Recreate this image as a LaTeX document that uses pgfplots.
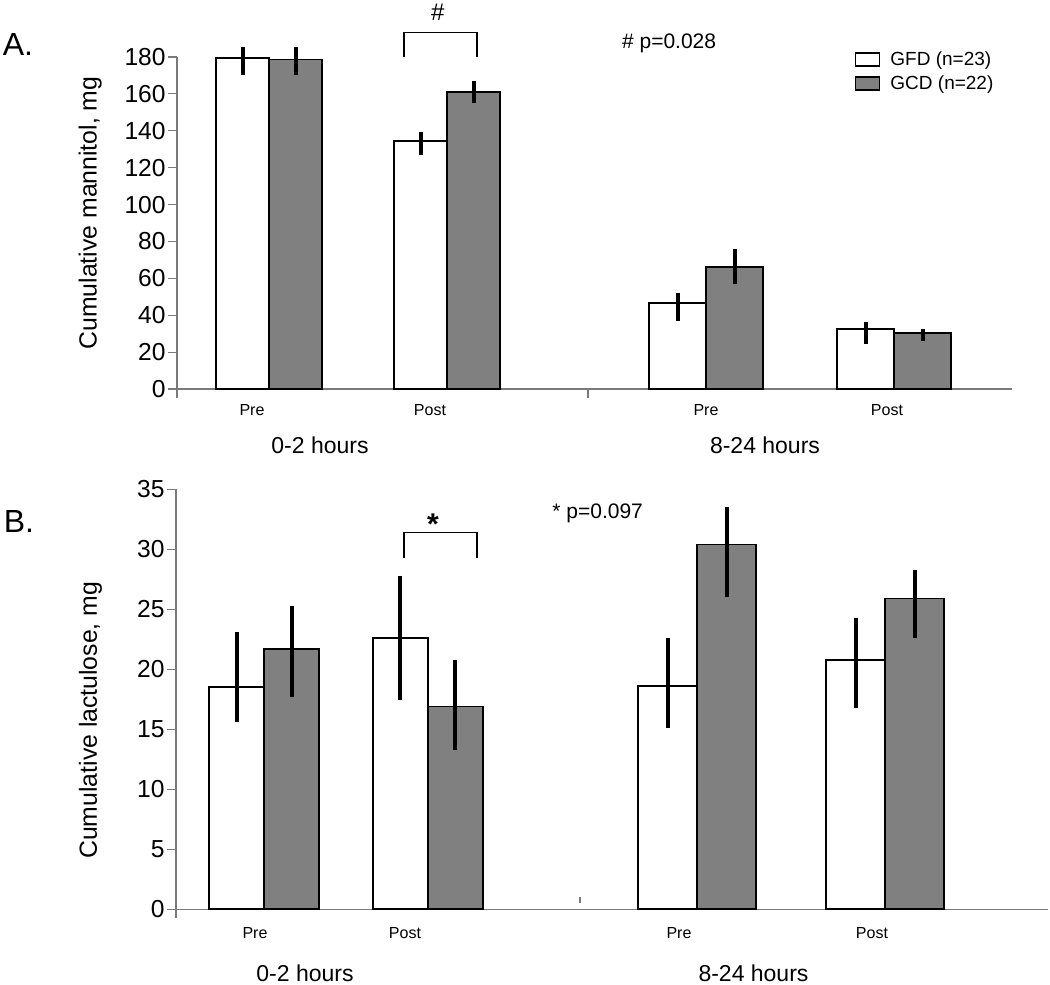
\documentclass[border=0pt]{standalone}
\usepackage{pgfplots}
\pgfplotsset{compat=1.18}
\usepackage{fontspec}
\setmainfont{Liberation Sans}
\definecolor{barg}{HTML}{808080}
\definecolor{axg}{HTML}{7A7A7A}
\newcommand{\fs}[1]{\fontsize{#1}{#1}\selectfont}
\pgfplotsset{
  panel/.style={
    scale only axis, axis lines=left, axis line style={axg, line width=0.6pt, -},
    enlargelimits=false, clip=false, xmin=0, ymin=0,
    /pgf/number format/assume math mode=true,
    tick align=outside, major tick length=4.5pt,
    tick style={axg, line width=0.6pt},
    yticklabel style={font=\fs{12.3}, inner sep=1pt},
    xticklabels={},
    extra x tick style={major tick length=0pt},
    extra x tick labels={Pre,Post,Pre,Post},
    every axis y label/.style={rotate=90, anchor=center, font=\fs{12.4}},
    ybar, bar shift=0pt,
    error bars/y dir=both, error bars/y explicit,
    error bars/error mark=none,
    error bars/error bar style={line width=2pt, black},
  },
  gfd/.style={fill=white, draw=black, line width=0.85pt},
  gcd/.style={fill=barg, draw=black, line width=0.85pt},
}
\begin{document}
\begin{tikzpicture}
\useasboundingbox (0,0) rectangle (525pt,492.5pt);
% ---------- Panel A ----------
\begin{axis}[panel,
  at={(88.5pt,298pt)}, anchor=south west,
  width=417.5pt, height=166pt,
  xmax=8.35, ymax=180,
  ytick={0,20,...,180},
  xtick={0,4.11},
  extra x ticks={0.75,2.53,5.29,7.10},
  extra x tick style={major tick length=0pt, xticklabel style={font=\fs{8}, yshift=-4pt}},
  ylabel={Cumulative mannitol, mg},
  every axis y label/.append style={at={(axis description cs:-0.104,0.53)}},
  legend style={draw=none, fill=none, at={(axis description cs:0.811,1.021)}, anchor=north west,
    font=\fs{9.5}, inner sep=0pt, row sep=2.6pt,
    nodes={inner sep=0.5pt}},
  legend cell align=left,
  legend image code/.code={\draw[#1, line width=0.85pt] (0pt,-3.25pt) rectangle (12pt,3.25pt); \path[draw=none, fill=none] (12pt,0pt) -- (17pt,0pt);},
]
\addplot[gfd, bar width=0.53] coordinates {
  (0.655,179.3) += (0,6.3) -= (0,9.0)
  (2.435,134.3) += (0,4.9) -= (0,7.4)
};
\addlegendentry{GFD (n=23)}
\addplot[gcd, bar width=0.53] coordinates {
  (1.185,178.7) += (0,6.9) -= (0,8.4)
  (2.965,161.0) += (0,6.0) -= (0,6.1)
};
\addlegendentry{GCD (n=22)}
\addplot[gfd, bar width=0.57, forget plot] coordinates {
  (5.005,46.8) += (0,5.4) -= (0,9.9)
  (6.885,32.5) += (0,4.0) -= (0,8.1)
};
\addplot[gcd, bar width=0.57, forget plot] coordinates {
  (5.575,66.2) += (0,9.6) -= (0,9.3)
  (7.455,30.5) += (0,2.0) -= (0,4.3)
};
\draw[black, line width=0.6pt] (axis cs:2.27,180.2) -- (axis cs:2.27,193.4) -- (axis cs:3.0,193.4) -- (axis cs:3.0,180.2);
\node[font=\fs{12}] at (axis cs:2.607,204.4) {\#};
\node[font=\fs{10.5}, anchor=west, inner sep=0pt] at (axis cs:4.447,187.6) {\# p=0.028};
\node[font=\fs{11.5}] at (axis cs:1.43,0) [yshift=-28pt] {0-2 hours};
\node[font=\fs{11.5}] at (axis cs:5.88,0) [yshift=-28pt] {8-24 hours};
\end{axis}
% ---------- Panel B ----------
\begin{axis}[panel,
  at={(88pt,37.85pt)}, anchor=south west,
  width=436pt, height=210pt,
  xmax=8.72, ymax=35,
  ytick={0,5,...,35},
  xtick={0},
  extra x ticks={0.79,2.29,5.03,6.96},
  extra x tick style={major tick length=0pt, xticklabel style={font=\fs{8}, yshift=-5.5pt}},
  ylabel={Cumulative lactulose, mg},
  every axis y label/.append style={at={(axis description cs:-0.098,0.45)}},
]
\addplot[gfd, bar width=0.55] coordinates {
  (0.605,18.5) += (0,4.6) -= (0,2.9)
  (2.242,22.6) += (0,5.2) -= (0,5.2)
};
\addplot[gcd, bar width=0.55] coordinates {
  (1.155,21.7) += (0,3.6) -= (0,4.0)
  (2.792,16.9) += (0,3.9) -= (0,3.6)
};
\addplot[gfd, bar width=0.59] coordinates {
  (4.918,18.6) += (0,4.0) -= (0,3.5)
  (6.798,20.8) += (0,3.45) -= (0,4.05)
};
\addplot[gcd, bar width=0.59] coordinates {
  (5.508,30.4) += (0,3.15) -= (0,4.35)
  (7.388,25.9) += (0,2.4) -= (0,3.3)
};
\draw[axg, line width=0.6pt] (axis cs:4.04,0.5) -- (axis cs:4.04,1.0);
\draw[black, line width=0.6pt] (axis cs:2.28,29.3) -- (axis cs:2.28,31.4) -- (axis cs:3.01,31.4) -- (axis cs:3.01,29.3);
\node[font=\fs{15}\bfseries] at (axis cs:2.57,32.1) {*};
\node[font=\fs{10.5}, anchor=west, inner sep=0pt] at (axis cs:3.76,33.0) {* p=0.097};
\node[font=\fs{11.5}] at (axis cs:1.29,0) [yshift=-32pt] {0-2 hours};
\node[font=\fs{11.5}] at (axis cs:5.775,0) [yshift=-32pt] {8-24 hours};
\end{axis}
\node[font=\fs{16}] at (9pt,470pt) {A.};
\node[font=\fs{16}] at (9.5pt,231.5pt) {B.};
\end{tikzpicture}
\end{document}
